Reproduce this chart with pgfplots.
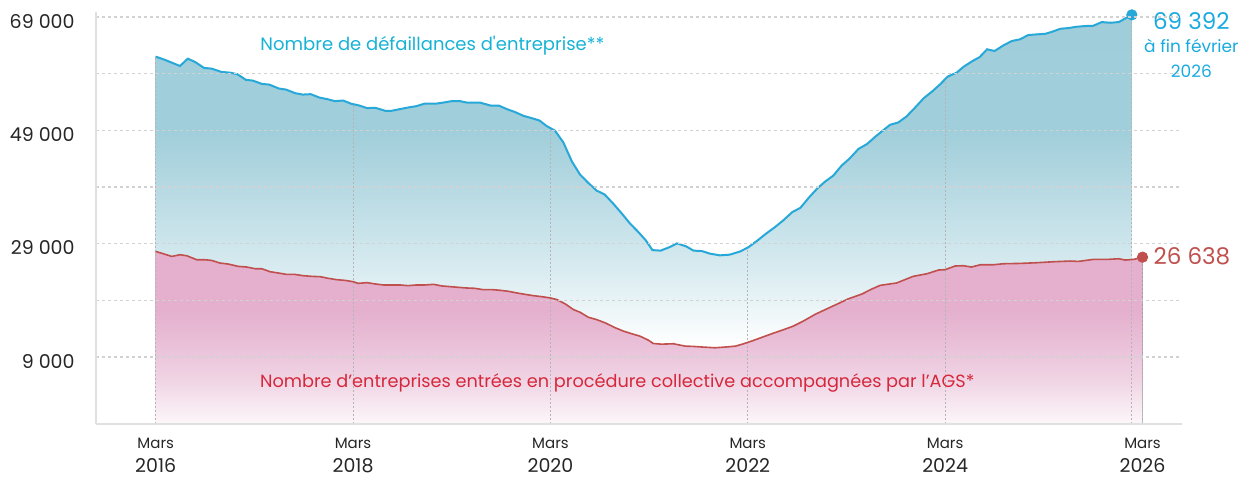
\documentclass[border=0pt]{standalone}
\usepackage{fontspec}
\setmainfont{Poppins}
\usepackage{pgfplots}
\usepackage{pgfplotstable}
\pgfplotsset{compat=1.18}
\usepgfplotslibrary{fillbetween}

\definecolor{lineblue}{HTML}{27A8D8}
\definecolor{txtblue}{HTML}{17B2D6}
\definecolor{valblue}{HTML}{1AAAE0}
\definecolor{linered}{HTML}{C0504D}
\definecolor{txtred}{HTML}{D6283C}
\definecolor{axisgray}{HTML}{E0E0E0}
\definecolor{gridgray}{HTML}{D2D2D2}
\definecolor{vgray}{HTML}{B4B4B4}
\definecolor{ticktxt}{HTML}{262626}

\pgfdeclareverticalshading{blueshade}{100bp}{%
  color(0bp)=(white); color(34.6bp)=(white);
  color(40.1bp)=(rgb,255:red,232;green,243;blue,246);
  color(46.2bp)=(rgb,255:red,208;green,231;blue,237);
  color(52.3bp)=(rgb,255:red,188;green,220;blue,229);
  color(60.9bp)=(rgb,255:red,160;green,206;blue,218);
  color(100bp)=(rgb,255:red,158;green,205;blue,217)}
\pgfdeclareverticalshading{pinkshade}{100bp}{%
  color(0bp)=(rgb,255:red,252;green,246;blue,249);
  color(25bp)=(rgb,255:red,252;green,246;blue,249);
  color(29.1bp)=(rgb,255:red,248;green,236;blue,243);
  color(37.8bp)=(rgb,255:red,240;green,212;blue,228);
  color(49.4bp)=(rgb,255:red,233;green,190;blue,215);
  color(58.1bp)=(rgb,255:red,228;green,176;blue,205);
  color(100bp)=(rgb,255:red,228;green,176;blue,205)}

% months since March 2016
\pgfplotstableread{
x y
0 62017
0.93 61560
2.96 60380
3.9 61665
4.78 61085
5.87 60030
6.8 59910
8.0 59325
9.04 59200
9.93 58920
10.98 57920
11.8 57800
12.9 57215
13.8 57090
15.0 56390
15.85 56210
16.94 55580
17.88 55330
18.85 55400
19.9 54805
20.87 54520
21.8 54170
22.8 54280
23.8 53700
24.76 53400
25.7 52940
26.7 53000
27.9 52470
28.7 52470
29.7 52765
30.7 53050
31.7 53290
32.75 53750
34.2 53750
35.0 53925
36.0 54170
37.0 54170
37.8 53925
39.4 53925
40.7 53400
41.7 53400
42.7 52765
43.7 52240
44.7 51590
45.7 51180
46.66 50760
47.55 49770
48.56 48950
49.57 46890
50.6 43550
51.6 41210
52.6 39750
53.6 38400
54.6 37690
55.66 36050
56.7 34300
57.7 32540
58.7 31060
59.6 29600
60.4 27890
61.4 27790
62.5 28420
63.4 29070
64.5 28540
65.4 27790
66.4 27720
67.4 27260
68.6 26960
69.8 27080
71.1 27660
72.1 28420
73.2 29600
74.3 30880
75.3 31940
76.3 33120
77.4 34580
78.4 35350
79.4 37110
80.4 38690
81.4 39980
82.4 41030
83.4 42790
84.4 44075
85.45 45730
86.5 46610
87.5 47890
88.5 49070
89.3 50000
90.3 50410
91.3 51470
92.35 53050
93.4 54700
94.4 55860
95.4 57160
96.3 58500
97.4 59200
98.2 60200
99.2 61140
100.2 61960
101.1 63320
102.0 63020
103.1 64020
104.1 64780
105.1 65080
106.1 65830
107.15 65950
108.2 66060
109.0 66410
110.0 66940
111.0 67065
112.0 67300
113.0 67420
114.0 67470
115.05 68120
116.1 68000
117.1 68120
118.7 69392
}\defaillances

\pgfplotstableread{
x y
0 27646
0.93 27240
1.95 26770
2.96 27065
3.77 26890
4.99 26185
6.0 26185
6.8 26065
7.8 25605
8.8 25430
10.05 25010
11.07 24900
12.1 24600
12.9 24600
13.9 24075
14.9 23845
15.9 23600
16.9 23600
17.95 23370
19.0 23250
20.0 23195
21.0 22900
22.0 22670
23.0 22545
24.0 22315
24.6 22020
25.7 22140
26.7 21910
27.7 21735
28.7 21735
29.7 21735
30.7 21610
31.7 21735
32.75 21735
33.8 21840
34.8 21560
35.8 21440
36.8 21315
37.8 21200
38.8 21140
39.8 20910
40.9 20910
41.9 20790
42.9 20610
43.9 20330
44.9 20080
45.9 19850
46.9 19680
47.96 19450
48.8 19150
49.8 18390
50.8 17390
51.6 16920
52.6 16040
53.6 15630
54.65 15050
55.9 14170
56.9 13575
57.9 13120
58.9 12695
59.9 12000
60.5 11410
61.5 11290
62.95 11360
64.4 10940
65.4 10890
66.6 10770
68.0 10650
69.2 10770
70.5 10940
71.5 11360
72.7 11950
73.9 12590
75.1 13220
76.3 13820
77.5 14450
78.8 15400
80.2 16560
81.6 17510
83.0 18450
84.2 19270
85.9 20150
87.1 21030
88.1 21665
90.1 22085
91.1 22670
92.1 23250
93.8 23720
95.2 24370
96.0 24430
97.2 25080
98.2 25130
99.2 24900
100.3 25305
101.9 25305
103.1 25480
105.1 25535
107.15 25660
109.2 25835
111.2 25955
112.2 25890
114.0 26240
115.7 26240
117.1 26360
117.9 26130
118.9 26240
120.0 26638
}\ags

\begin{document}
\begin{tikzpicture}
\begin{axis}[
    scale only axis,
    width=543pt, height=206pt,
    xmin=-7.26, xmax=124.8,
    ymin=-2800, ymax=69900,
    scaled y ticks=false, scaled x ticks=false,
    axis x line*=bottom, axis y line*=left,
    axis line style={draw=axisgray, line width=1pt, -},
    xtick={0,24,48,72,96,120},
    xticklabels={
      {{\fontsize{7.5}{9}\selectfont Mars}\\2016},
      {{\fontsize{7.5}{9}\selectfont Mars}\\2018},
      {{\fontsize{7.5}{9}\selectfont Mars}\\2020},
      {{\fontsize{7.5}{9}\selectfont Mars}\\2022},
      {{\fontsize{7.5}{9}\selectfont Mars}\\2024},
      {{\fontsize{7.5}{9}\selectfont Mars}\\2026}},
    xticklabel style={align=center, inner sep=0pt, yshift=-7pt,
      font=\fontsize{9.5}{12}\selectfont, text=ticktxt},
    ytick={9000,29000,49000,69000},
    yticklabels={9~000,29~000,49~000,69~000},
    yticklabel style={anchor=east, inner sep=0pt, xshift=-10.5pt, yshift=-2pt,
      font=\fontsize{9.5}{11}\selectfont, text=ticktxt},
    minor ytick={19000,39000,59000},
    ymajorgrids, yminorgrids,
    major grid style={draw=gridgray, line width=0.7pt, dash pattern=on 1.5pt off 1.5pt},
    minor grid style={draw=gridgray, line width=0.7pt, dash pattern=on 1.5pt off 1.5pt},
    major tick length=0pt, minor tick length=0pt,
    axis on top,
    clip=false,
    vline/.style={draw=vgray, line width=0.5pt, dash pattern=on 1pt off 1pt},
]
% paths for the areas
\addplot[draw=none, name path=B] table {\defaillances};
\addplot[draw=none, name path=R] table {\ags};
\addplot[draw=none, name path=ZB] coordinates {(0,-2800) (118.7,-2800)};
\addplot[draw=none, name path=ZR] coordinates {(0,-2800) (120,-2800)};
\addplot[draw=none, shade, shading=blueshade] fill between[of=B and ZB];
\addplot[draw=none, shade, shading=pinkshade] fill between[of=R and ZR];

% dashed drop lines
\addplot[vline] coordinates {(0,-2800) (0,62017)};
\addplot[vline] coordinates {(24,-2800) (24,53630)};
\addplot[vline] coordinates {(48,-2800) (48,49400)};
\addplot[vline] coordinates {(72,-2800) (72,28350)};
\addplot[vline] coordinates {(96,-2800) (96,58050)};
\addplot[vline] coordinates {(118.7,-2800) (118.7,69392)};
\addplot[vline] coordinates {(120,-2800) (120,26638)};

% series lines
\addplot[lineblue, line width=1pt] table {\defaillances};
\addplot[linered, line width=0.8pt] table {\ags};
\addplot[only marks, mark=*, mark size=2.6pt, color=lineblue] coordinates {(118.7,69392)};
\addplot[only marks, mark=*, mark size=2.6pt, color=linered] coordinates {(120,26638)};

% labels
\node[anchor=base west, inner sep=0pt, text=txtblue, font=\fontsize{9}{11}\selectfont]
  at (axis cs:12.69,63140) {Nombre de défaillances d\textquotesingle entreprise**};
\node[anchor=base west, inner sep=0pt, text=txtred, font=\fontsize{8.85}{11}\selectfont]
  at (axis cs:12.65,3565) {Nombre d’entreprises entrées en procédure collective accompagnées par l’AGS*};
\node[anchor=base, inner sep=0pt, text=valblue, font=\fontsize{11.5}{14}\selectfont]
  at (axis cs:125.94,66890) {69~392};
\node[anchor=base, inner sep=0pt, text=valblue, font=\fontsize{8.5}{10}\selectfont]
  at (axis cs:125.94,62668) {à fin février};
\node[anchor=base, inner sep=0pt, text=valblue, font=\fontsize{8.5}{10}\selectfont]
  at (axis cs:125.94,58270) {2026};
\node[anchor=base west, inner sep=0pt, text=linered, font=\fontsize{11.5}{14}\selectfont]
  at (axis cs:121.3,25306) {26~638};
\end{axis}
\pgfresetboundingbox
\path[use as bounding box] (-48pt,-26.5pt) rectangle (575pt,212pt);
\end{tikzpicture}
\end{document}
